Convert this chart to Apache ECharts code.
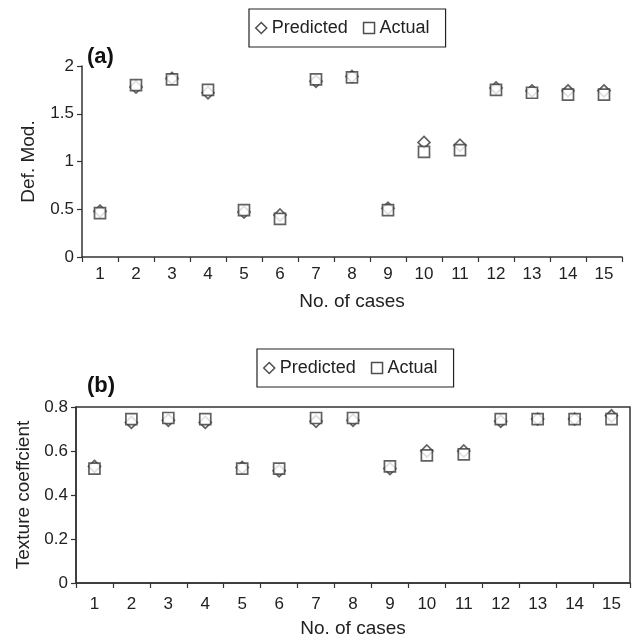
<!DOCTYPE html>
<html>
<head>
<meta charset="utf-8">
<script src="https://cdn.jsdelivr.net/npm/echarts@6/dist/echarts.min.js"></script>
<style>
  html,body{margin:0;padding:0;background:#fff;}
  #chart{width:637px;height:640px;}
</style>
</head>
<body>
<div id="chart"></div>
<script>
// 横轴 案例编号
const cases = ['1','2','3','4','5','6','7','8','9','10','11','12','13','14','15']
// (a) Def. Mod.
const defPredicted = [0.48,1.78,1.87,1.72,0.47,0.44,1.84,1.89,0.51,1.20,1.17,1.77,1.74,1.74,1.74]
const defActual    = [0.46,1.80,1.86,1.75,0.49,0.40,1.86,1.88,0.49,1.10,1.12,1.75,1.72,1.70,1.70]
// (b) Texture coeffcient
const texPredicted = [0.53,0.73,0.74,0.73,0.525,0.51,0.735,0.74,0.52,0.60,0.60,0.735,0.745,0.745,0.76]
const texActual    = [0.52,0.745,0.75,0.745,0.52,0.52,0.75,0.75,0.53,0.58,0.585,0.745,0.745,0.745,0.745]
const defTicks = [0, 0.5, 1, 1.5, 2]
const texTicks = [0, 0.2, 0.4, 0.6, 0.8]

const ink = '#333'
const font = 'Liberation Sans, Arial, sans-serif'

const xAxisOf = (grid) => ({
  type: 'category',
  gridIndex: grid,
  data: cases,
  boundaryGap: true,
  name: 'No. of cases',
  nameLocation: 'middle',
  nameGap: grid === 0 ? 35 : 36,
  nameTextStyle: { fontSize: 19, color: '#222', fontFamily: font },
  axisLine: { show: true, lineStyle: { color: ink, width: 1.5 } },
  axisTick: { show: true, length: 5, alignWithLabel: false, lineStyle: { color: ink, width: 1.2 } },
  axisLabel: { fontSize: 17, color: '#222', fontFamily: font, margin: grid === 0 ? 9 : 13, interval: 0 },
  splitLine: { show: false }
})

const yAxisOf = (grid, ticks, name, gap) => ({
  type: 'value',
  gridIndex: grid,
  min: ticks[0],
  max: ticks[ticks.length - 1],
  interval: ticks[1] - ticks[0],
  name: name,
  nameLocation: 'middle',
  nameGap: gap,
  nameTextStyle: { fontSize: 19, color: '#222', fontFamily: font },
  axisLine: { show: true, lineStyle: { color: ink, width: 1.5 } },
  axisTick: { show: true, length: 5, lineStyle: { color: ink, width: 1.2 } },
  axisLabel: { fontSize: 17, color: '#222', fontFamily: font, margin: 8 },
  splitLine: { show: false }
})

const markStyle = { color: '#fff', borderColor: '#3a3a3a', borderWidth: 1.7 }

const legendOf = (left, top) => ({
  left: left,
  top: top,
  orient: 'horizontal',
  data: [
    { name: 'Predicted', icon: 'diamond', itemStyle: { color: '#fff', borderColor: '#222', borderWidth: 1.5 } },
    { name: 'Actual', icon: 'rect', itemStyle: { color: '#fff', borderColor: '#222', borderWidth: 1.5 } }
  ],
  itemWidth: 11,
  itemHeight: 11,
  itemGap: 15,
  padding: [10, 16, 10, 6],
  borderColor: '#222',
  borderWidth: 1.2,
  selectedMode: false,
  textStyle: { fontSize: 18, color: '#222', fontFamily: font }
})

const seriesOf = (name, sym, size, grid, data) => ({
  name: name,
  type: 'scatter',
  xAxisIndex: grid,
  yAxisIndex: grid,
  symbol: sym,
  symbolSize: size,
  itemStyle: markStyle,
  data: data
})

let myChart = echarts.init(document.getElementById('chart'), null, { renderer: 'canvas' })
const option = {
  backgroundColor: '#fff',
  animation: false,
  textStyle: { fontFamily: font },
  legend: [legendOf(249, 9), legendOf(257, 349)],
  grid: [
    { left: 82, right: 15, top: 66, height: 191 },
    { left: 76, right: 7, top: 407, height: 176, show: true, borderColor: ink, borderWidth: 1.5, backgroundColor: 'transparent' }
  ],
  graphic: [
    { type: 'text', left: 87, top: 46, style: { text: '(a)', font: 'bold 22px ' + font, fill: '#111' } },
    { type: 'text', left: 87, top: 375, style: { text: '(b)', font: 'bold 22px ' + font, fill: '#111' } }
  ],
  xAxis: [xAxisOf(0), xAxisOf(1)],
  yAxis: [
    yAxisOf(0, defTicks, 'Def. Mod.', 44),
    yAxisOf(1, texTicks, 'Texture coeffcient', 43)
  ],
  series: [
    seriesOf('Predicted', 'diamond', 12, 0, defPredicted),
    seriesOf('Actual', 'rect', 11, 0, defActual),
    seriesOf('Predicted', 'diamond', 12, 1, texPredicted),
    seriesOf('Actual', 'rect', 11, 1, texActual)
  ]
}
myChart.setOption(option)
</script>
</body>
</html>
